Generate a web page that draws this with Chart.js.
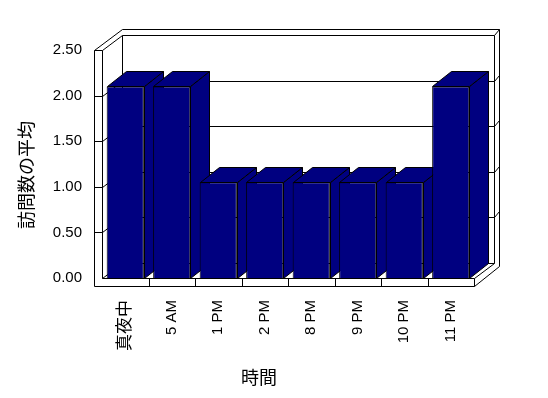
<!DOCTYPE html>
<html>
<head>
<meta charset="utf-8">
<script src="https://cdn.jsdelivr.net/npm/chart.js@4"></script>
<style>
  body { margin: 0; background: #fff; }
</style>
</head>
<body>
<canvas id="chart" width="548" height="398"></canvas>
<script>
// Datos
const categorias = ['真夜中', '5 AM', '1 PM', '2 PM', '8 PM', '9 PM', '10 PM', '11 PM'];
const valores = [2.1, 2.1, 1.05, 1.05, 1.05, 1.05, 1.05, 2.1];
const ticksY = [0, 0.5, 1, 1.5, 2, 2.5];
const tituloX = '時間';
const tituloY = '訪問数の平均';

const FUENTE = "'Liberation Sans', Arial, 'Noto Sans CJK JP', sans-serif";
const FUENTE_JP = "'Noto Sans CJK JP', sans-serif";

// profundidad de la caja y de las barras (efecto 3D)
const caja = { dx: 20, dy: -15, grosor: 8, ex: 5, ey: -6 };
const prof = { dx: 19, dy: -15 };

function linea(ctx, x1, y1, x2, y2) {
    ctx.beginPath();
    ctx.moveTo(Math.round(x1) + 0.5, Math.round(y1) + 0.5);
    ctx.lineTo(Math.round(x2) + 0.5, Math.round(y2) + 0.5);
    ctx.stroke();
}

function poligono(ctx, pts, relleno) {
    ctx.beginPath();
    pts.forEach((p, i) => {
        const x = Math.round(p[0]) + 0.5, y = Math.round(p[1]) + 0.5;
        if (i === 0) ctx.moveTo(x, y); else ctx.lineTo(x, y);
    });
    ctx.closePath();
    ctx.fillStyle = relleno;
    ctx.fill();
    ctx.stroke();
}

const caja3d = {
    id: 'caja3d',
    beforeDatasetsDraw(chart) {
        const ctx = chart.ctx;
        const { left: L, right: R, top: T, bottom: B } = chart.chartArea;
        const sy = chart.scales.y, sx = chart.scales.x;
        const { dx, dy, grosor: g, ex, ey } = caja;
        ctx.save();
        ctx.strokeStyle = '#000';
        ctx.lineWidth = 1;

        // pared izquierda
        linea(ctx, L - g, T, L - g, B + g);
        linea(ctx, L, T, L, B);
        linea(ctx, L - g, T, L, T);
        linea(ctx, L - g, T, L + dx + ex - g + 3, T + dy + ey);
        linea(ctx, L, T, L + dx, T + dy);

        // pared del fondo
        linea(ctx, L + dx + ex - g + 3, T + dy + ey, R + dx + ex, T + dy + ey);
        linea(ctx, L + dx, T + dy, R + dx, T + dy);
        linea(ctx, L + dx, T + dy, L + dx, B + dy);
        linea(ctx, R + dx, T + dy, R + dx, B + dy);
        linea(ctx, R + dx, T + dy, R + dx + ex, T + dy + ey);
        linea(ctx, R + dx + ex, T + dy + ey, R + dx + ex, B + g + dy - ex);

        // lineas de division
        ticksY.forEach(v => {
            if (v === ticksY[0] || v === ticksY[ticksY.length - 1]) return;
            const y = sy.getPixelForValue(v);
            linea(ctx, L - g, y, L, y);
            linea(ctx, L, y, L + dx, y + dy);
            linea(ctx, L + dx, y + dy, R + dx, y + dy);
            linea(ctx, R + dx, y + dy, R + dx + ex, y + dy + ey);
        });

        // piso
        linea(ctx, L, B, R, B);
        linea(ctx, L - g, B + g, R, B + g);
        linea(ctx, R, B, R, B + g);
        linea(ctx, L, B, L + dx, B + dy);
        linea(ctx, L + dx, B + dy, R + dx, B + dy);
        linea(ctx, R, B, R + dx, B + dy);
        linea(ctx, R, B + g, R + dx + ex, B + g + dy - ex);
        for (let i = 1; i < categorias.length; i++) {
            const x = (sx.getPixelForValue(i - 1) + sx.getPixelForValue(i)) / 2;
            linea(ctx, x, B, x, B + g);
        }

        // caras laterales y superiores de las barras
        const meta = chart.getDatasetMeta(0);
        meta.data.forEach(bar => {
            const p = bar.getProps(['x', 'y', 'base', 'width'], true);
            const l = p.x - p.width / 2, r = p.x + p.width / 2;
            const t = p.y, b = p.base;
            const color = chart.data.datasets[0].backgroundColor;
            poligono(ctx, [[r, t], [r + prof.dx, t + prof.dy], [r + prof.dx, b + prof.dy], [r, b]], color);
            poligono(ctx, [[l, t], [l + prof.dx, t + prof.dy], [r + prof.dx, t + prof.dy], [r, t]], color);
        });
        ctx.restore();
    },
    afterDraw(chart) {
        const ctx = chart.ctx;
        ctx.save();
        ctx.fillStyle = '#000';
        ctx.font = '18px ' + FUENTE_JP;
        ctx.textAlign = 'center';
        ctx.textBaseline = 'middle';
        ctx.fillText(tituloX, 259, 377);
        ctx.translate(26, 175);
        ctx.rotate(-Math.PI / 2);
        ctx.fillText(tituloY, 0, 0);
        ctx.restore();
    }
};

const ctx = document.getElementById('chart').getContext('2d');
new Chart(ctx, {
    type: 'bar',
    data: {
        labels: categorias,
        datasets: [{
            data: valores,
            backgroundColor: '#000080',
            borderColor: '#000',
            borderWidth: 1,
            categoryPercentage: 0.8,
            barPercentage: 1
        }]
    },
    options: {
        responsive: false,
        animation: false,
        devicePixelRatio: 1,
        layout: { padding: { top: 50, right: 74, left: 0, bottom: 0 } },
        plugins: {
            legend: { display: false },
            tooltip: { enabled: false }
        },
        scales: {
            x: {
                grid: { display: false, drawTicks: false },
                border: { display: false },
                afterFit: s => { s.height = 120; },
                ticks: {
                    color: '#000',
                    padding: 22,
                    minRotation: 90,
                    maxRotation: 90,
                    autoSkip: false,
                    font: c => ({ family: FUENTE, size: c.index === 0 ? 17 : 15 })
                }
            },
            y: {
                min: 0,
                max: 2.5,
                grid: { display: false, drawTicks: false },
                border: { display: false },
                afterFit: s => { s.width = 102; },
                afterBuildTicks: s => { s.ticks = ticksY.map(v => ({ value: v })); },
                ticks: {
                    color: '#000',
                    padding: 20,
                    font: { family: FUENTE, size: 15 },
                    callback: v => Number(v).toFixed(2)
                }
            }
        }
    },
    plugins: [caja3d]
});
</script>
</body>
</html>
